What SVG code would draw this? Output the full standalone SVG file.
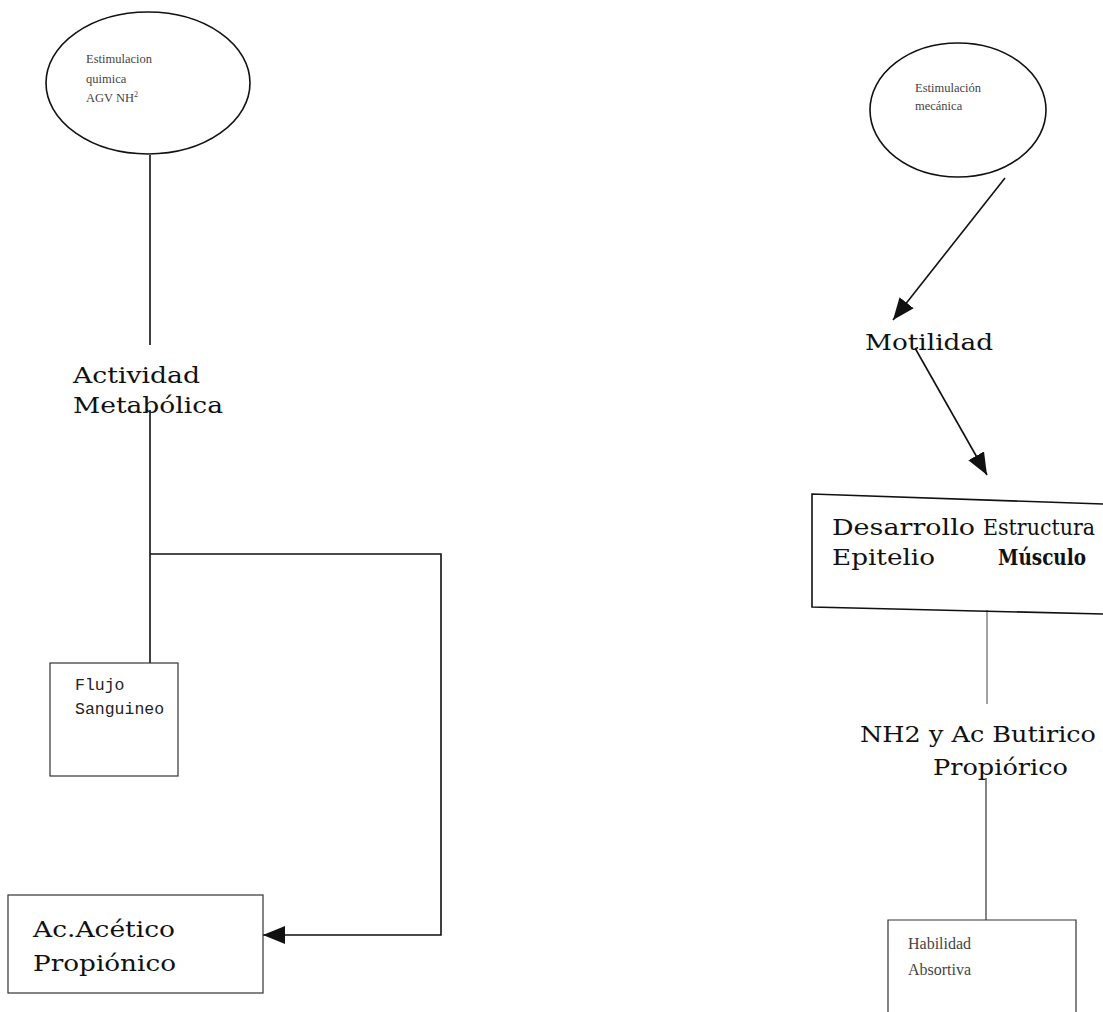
<svg xmlns="http://www.w3.org/2000/svg" width="1103" height="1012" viewBox="0 0 1103 1012">
  <style>
    .bg { fill: #ffffff; }
    .shape { fill: none; stroke: #111; stroke-width: 1.6; }
    .thin { fill: none; stroke: #333; stroke-width: 1.2; }
    .link { fill: none; stroke: #111; stroke-width: 1.6; }
    .faint { fill: none; stroke: #555; stroke-width: 1.1; }
    .small { font-family: "Liberation Serif", "Times New Roman", serif; font-size: 12.5px; fill: #444; }
    .small-r { font-family: "Liberation Serif", "Times New Roman", serif; font-size: 12.5px; fill: #444; }
    .small-l { font-family: "Liberation Serif", "Times New Roman", serif; font-size: 16px; fill: #444; }
    .label { font-family: "DejaVu Serif", "Liberation Serif", serif; font-size: 22px; fill: #111; }
    .bold { font-weight: bold; }
    .mono { font-family: "Liberation Mono", "Courier New", monospace; font-size: 16.5px; fill: #222; }
  </style>
  <defs>
    <marker id="head" viewBox="0 0 22 18" refX="22" refY="9" markerWidth="22" markerHeight="18" markerUnits="userSpaceOnUse" orient="auto">
      <path d="M0,0 L22,9 L0,18 Z" fill="#111"/>
    </marker>
  </defs>
  <rect class="bg" x="0" y="0" width="1103" height="1012"/>

  <!-- connectors -->
  <g id="connectors">
    <line class="link" x1="150" y1="155" x2="150" y2="345"/>
    <line class="link" x1="150" y1="410" x2="150" y2="663"/>
    <polyline class="link" points="150,554 441,554 441,935 263,935" marker-end="url(#head)"/>
    <line class="link" x1="1005" y1="178" x2="893" y2="320" marker-end="url(#head)"/>
    <line class="link" x1="915" y1="348" x2="987" y2="475" marker-end="url(#head)"/>
    <line class="faint" x1="987" y1="610" x2="987" y2="704"/>
    <line class="thin" x1="986" y1="778" x2="986" y2="920"/>
  </g>

  <!-- left column -->
  <g id="estimulacion-quimica">
    <ellipse class="shape" cx="148" cy="83" rx="102" ry="71"/>
    <text class="small" x="86" y="63">Estimulacion</text>
    <text class="small" x="86" y="83">quimica</text>
    <text class="small" x="86" y="102">AGV NH<tspan style="font-size:8px" dy="-5">2</tspan></text>
  </g>

  <g id="actividad-metabolica">
    <text class="label" x="73" y="383" textLength="127" lengthAdjust="spacingAndGlyphs">Actividad</text>
    <text class="label" x="73" y="413" textLength="150" lengthAdjust="spacingAndGlyphs">Metabólica</text>
  </g>

  <g id="flujo-sanguineo">
    <rect class="thin" x="50" y="663" width="128" height="113"/>
    <text class="mono" x="75" y="690">Flujo</text>
    <text class="mono" x="75" y="714">Sanguineo</text>
  </g>

  <g id="acido-acetico">
    <rect class="thin" x="8" y="895" width="255" height="98"/>
    <text class="label" x="33" y="937" textLength="142" lengthAdjust="spacingAndGlyphs">Ac.Acético</text>
    <text class="label" x="33" y="971" textLength="143" lengthAdjust="spacingAndGlyphs">Propiónico</text>
  </g>

  <!-- right column -->
  <g id="estimulacion-mecanica">
    <ellipse class="shape" cx="958" cy="110" rx="88" ry="67"/>
    <text class="small-r" x="915" y="92">Estimulación</text>
    <text class="small-r" x="915" y="110">mecánica</text>
  </g>

  <g id="motilidad">
    <text class="label" x="865" y="350" textLength="128" lengthAdjust="spacingAndGlyphs">Motilidad</text>
  </g>

  <g id="desarrollo-estructural">
    <path class="shape" stroke-width="2" d="M1103,504 L812,494 L812,607 L1103,614"/>
    <text class="label" x="832" y="535" textLength="143" lengthAdjust="spacingAndGlyphs">Desarrollo</text>
    <text class="label" x="983" y="535" textLength="112" lengthAdjust="spacingAndGlyphs">Estructura</text>
    <text class="label" x="832" y="565" textLength="103" lengthAdjust="spacingAndGlyphs">Epitelio</text>
    <text class="label bold" x="998" y="565" textLength="88" lengthAdjust="spacingAndGlyphs">Músculo</text>
  </g>

  <g id="nh2-butirico">
    <text class="label" x="860" y="742" textLength="236" lengthAdjust="spacingAndGlyphs">NH2 y Ac Butirico</text>
    <text class="label" x="933" y="775" textLength="135" lengthAdjust="spacingAndGlyphs">Propiórico</text>
  </g>

  <g id="habilidad-absortiva">
    <path class="thin" d="M888,1012 V920 H1076 V1012"/>
    <text class="small-l" x="908" y="949">Habilidad</text>
    <text class="small-l" x="908" y="975">Absortiva</text>
  </g>
</svg>
